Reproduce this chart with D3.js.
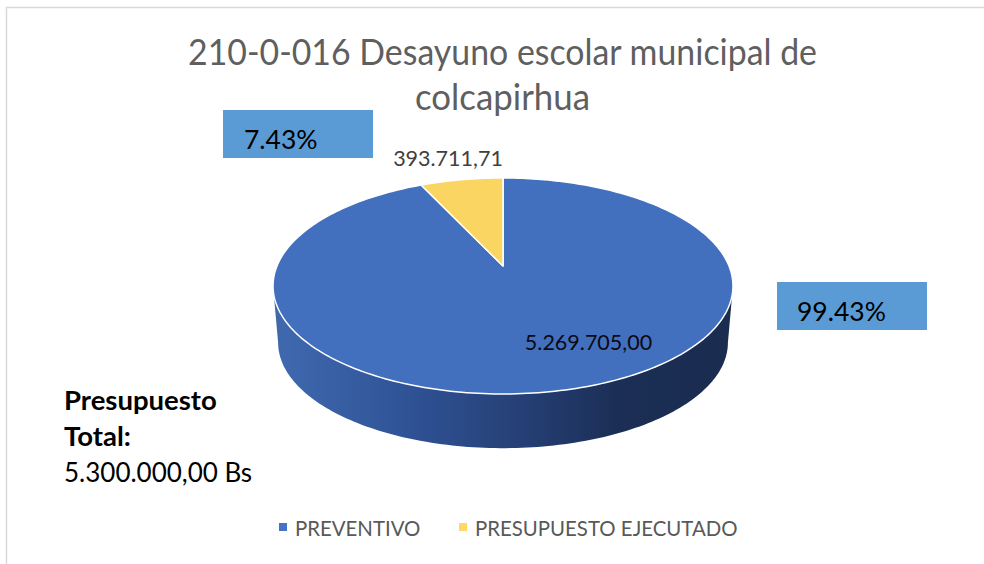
<!DOCTYPE html>
<html>
<head>
<meta charset="utf-8">
<script src="https://cdn.jsdelivr.net/npm/d3@7/dist/d3.min.js"></script>
<style>
  html, body { margin: 0; padding: 0; background: #fff; }
  svg { display: block; }
</style>
</head>
<body>
<div id="chart"></div>
<script>
const categories = ['PREVENTIVO', 'PRESUPUESTO EJECUTADO'];
const values = [5269705.00, 393711.71];
const valueLabels = ['5.269.705,00', '393.711,71'];
const percentLabels = ['99.43%', '7.43%'];
const titleLines = ['210-0-016 Desayuno escolar municipal de', 'colcapirhua'];
const colors = ['#4270be', '#fad562'];

const width = 984;
const height = 564;
const font = 'Lato, "Open Sans", sans-serif';

const svg = d3.select('#chart').append('svg')
  .attr('width', width)
  .attr('height', height);

// frame of the chart, cropped at the right and bottom
svg.append('path')
  .attr('d', `M6.5,${height}V7.5H${width}`)
  .attr('fill', 'none')
  .attr('stroke', '#d9d9d9')
  .attr('stroke-width', 1.5);

// tilted disc: apex sits above the middle of the ellipse because of perspective
const k = 0.185;
const cx = 503;
const apexY = 266;
const scaleX = 226;
const scaleY = 104.3;

function project(angle, scale = 1, dy = 0) {
  const x = Math.sin(angle);
  const y = -Math.cos(angle);
  const w = 1 - k * y;
  return [cx + scale * scaleX * x / w, apexY + dy + scale * scaleY * y / w];
}

function arcPoints(start, end, scale, dy) {
  const n = Math.max(2, Math.ceil(Math.abs(end - start) / 0.02));
  return d3.range(n + 1).map(i => project(start + (end - start) * i / n, scale, dy));
}

const line = d3.line();
const arcs = d3.pie().sort(null)(values);

// side wall
const defs = svg.append('defs');
const grad = defs.append('linearGradient')
  .attr('id', 'wall')
  .attr('x1', 0).attr('x2', 1).attr('y1', 0).attr('y2', 0);
[[0, '#40699f'], [0.02, '#3f68ae'], [0.3, '#2f5295'], [0.55, '#253f74'], [0.75, '#1b2e55'], [1, '#1a2c4f']]
  .forEach(s => grad.append('stop').attr('offset', s[0]).attr('stop-color', s[1]));

// angles of the widest points on the ellipse
const side = Math.PI / 2 + Math.asin(k);
const wallDy = 57;
const wallScale = 0.978;
const wallPts = arcPoints(side, Math.PI * 2 - side, wallScale, wallDy)
  .concat(arcPoints(Math.PI * 2 - side, side, 1, 0));
svg.append('path')
  .attr('d', line(wallPts) + 'Z')
  .attr('fill', 'url(#wall)');

// top of the pie
const slices = svg.append('g');
arcs.forEach((a, i) => {
  const pts = [[cx, apexY]].concat(arcPoints(a.startAngle, a.endAngle, 1, 0));
  slices.append('path')
    .attr('d', line(pts) + 'Z')
    .attr('fill', colors[i])
    .attr('stroke', '#fff')
    .attr('stroke-width', 1.5)
    .attr('stroke-linejoin', 'round');
});

// title, squeezed to the width of the narrower original face
const titleWidths = [629, 175];
svg.append('g').selectAll('text')
  .data(titleLines)
  .join('text')
  .attr('x', 502.5)
  .attr('y', (d, i) => 65 + i * 45)
  .attr('text-anchor', 'middle')
  .attr('font-family', font)
  .attr('font-size', 37)
  .attr('fill', '#5f5f5f')
  .attr('textLength', (d, i) => titleWidths[i])
  .attr('lengthAdjust', 'spacingAndGlyphs')
  .text(d => d);

// value labels
svg.append('text')
  .attr('x', 588.5).attr('y', 350)
  .attr('text-anchor', 'middle')
  .attr('font-family', font).attr('font-size', 21.5)
  .attr('fill', '#0a0a14')
  .text(valueLabels[0]);
svg.append('text')
  .attr('x', 448).attr('y', 166)
  .attr('text-anchor', 'middle')
  .attr('font-family', font).attr('font-size', 21.5)
  .attr('fill', '#404040')
  .text(valueLabels[1]);

// percent boxes
const boxes = [
  {x: 777, y: 282, w: 150, h: 48, tx: 797, ty: 321, label: percentLabels[0]},
  {x: 223, y: 110, w: 150, h: 48, tx: 244, ty: 149, label: percentLabels[1]}
];
boxes.forEach(b => {
  svg.append('rect')
    .attr('x', b.x).attr('y', b.y)
    .attr('width', b.w).attr('height', b.h)
    .attr('fill', '#5b9bd5');
  svg.append('text')
    .attr('x', b.tx).attr('y', b.ty)
    .attr('font-family', font).attr('font-size', 26.5)
    .attr('fill', '#000')
    .text(b.label);
});

// budget note
const note = svg.append('g')
  .attr('font-family', font).attr('font-size', 26).attr('fill', '#000');
note.append('text').attr('x', 64).attr('y', 410).attr('font-size', 27.5).attr('font-weight', 'bold').text('Presupuesto');
note.append('text').attr('x', 64).attr('y', 446).attr('font-size', 27.5).attr('font-weight', 'bold').text('Total:');
note.append('text').attr('x', 64).attr('y', 482).text('5.300.000,00 Bs');

// legend
const legendX = [279, 459];
const legend = svg.append('g').selectAll('g')
  .data(categories)
  .join('g')
  .attr('transform', (d, i) => `translate(${legendX[i]},523)`);
legend.append('rect')
  .attr('width', 8).attr('height', 8)
  .attr('fill', (d, i) => i === 0 ? '#4472c4' : '#ffd966');
legend.append('text')
  .attr('x', 16).attr('y', 13)
  .attr('font-family', font).attr('font-size', 20.4)
  .attr('fill', '#595959')
  .text(d => d);
</script>
</body>
</html>
